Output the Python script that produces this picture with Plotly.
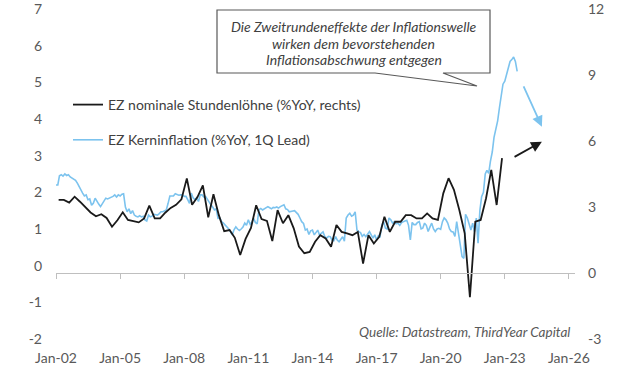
import pandas as pd
import plotly.graph_objects as go

# ---------------- data ----------------
# EZ Kerninflation (%YoY, 1Q Lead) - monthly, left axis
core_2002 = [2.2, 2.2, 2.45, 2.48, 2.44, 2.5, 2.46, 2.48, 2.42, 2.39, 2.37, 2.33]
core_2003 = [2.25, 2.15, 2.05, 1.98, 1.9, 1.93, 1.8, 1.82, 1.65, 1.7, 1.84, 1.75]
core_2004 = [1.68, 1.61, 1.68, 1.75, 1.84, 1.82, 1.84, 1.86, 1.89, 1.93, 1.87, 1.93]
core_2005 = [1.9, 1.95, 1.96, 1.6, 1.47, 1.55, 1.42, 1.5, 1.38, 1.35, 1.33, 1.36]
core_2006 = [1.33, 1.35, 1.25, 1.22, 1.38, 1.33, 1.35, 1.4, 1.4, 1.38, 1.42, 1.47]
core_2007 = [1.47, 1.5, 1.52, 1.7, 1.9, 1.9, 1.9, 1.96, 1.93, 1.92, 1.93, 1.93]
core_2008 = [1.89, 1.89, 1.8, 1.7, 1.98, 1.85, 1.8, 1.85, 1.75, 1.93, 1.93, 1.87]
core_2009 = [1.89, 1.8, 1.75, 1.66, 1.6, 1.52, 1.55, 1.29, 1.3, 1.2, 1.16, 1.11]
core_2010 = [1.06, 1.0, 0.93, 0.84, 0.98, 1.06, 1.0, 0.96, 1.0, 1.05, 1.16, 1.1]
core_2011 = [1.25, 1.13, 1.18, 1.29, 1.18, 1.14, 1.52, 1.56, 1.52, 1.55, 1.57, 1.61]
core_2012 = [1.58, 1.55, 1.59, 1.58, 1.6, 1.57, 1.61, 1.63, 1.66, 1.55, 1.53, 1.47]
core_2013 = [1.47, 1.49, 1.5, 1.45, 1.4, 1.3, 1.2, 1.15, 0.97, 1.0, 0.85, 0.95]
core_2014 = [0.97, 0.84, 0.9, 0.97, 0.84, 0.88, 0.92, 0.79, 0.75, 0.8, 0.79, 0.7]
core_2015 = [0.68, 0.79, 0.7, 0.65, 0.72, 0.79, 0.67, 1.3, 1.38, 1.43, 1.35, 1.38]
core_2016 = [1.47, 0.97, 0.93, 0.9, 0.8, 0.85, 0.79, 0.88, 0.93, 0.84, 0.75, 0.84]
core_2017 = [0.7, 0.82, 0.79, 1.1, 1.2, 1.02, 1.0, 1.3, 1.25, 1.16, 1.2, 1.14]
core_2018 = [1.16, 1.1, 1.17, 1.2, 1.22, 1.24, 1.1, 0.7, 1.18, 1.12, 1.12, 1.18]
core_2019 = [1.2, 1.0, 1.02, 1.16, 1.1, 0.93, 1.05, 1.16, 1.0, 0.93, 1.0, 1.02]
core_2020 = [0.99, 1.2, 1.3, 1.25, 1.16, 1.0, 0.93, 0.92, 0.8, 1.2, 0.88, 0.6]
core_2021 = [0.25, 0.2, 1.4, 1.3, 1.16, 0.97, 1.16, 0.93, 1.3, 0.61, 1.5, 1.88]
core_2022 = [2.0, 2.5, 2.6, 2.52, 2.85, 3.1, 3.5, 3.75, 3.95, 4.3, 4.65, 4.95]
core_2023 = [5.03, 5.2, 5.4, 5.57, 5.62, 5.69, 5.57, 5.3]

# EZ nominale Stundenlöhne (%YoY, rechts) - quarterly, right axis
wages_2002_2006 = [3.32, 3.32, 3.2, 3.47, 3.24, 2.98, 2.75, 2.58, 2.67, 2.5, 2.1, 2.4,
                   2.76, 2.41, 2.36, 2.3, 2.48, 3.06, 2.48, 2.48]
wages_2007_2011 = [2.75, 2.96, 3.1, 3.35, 4.3, 3.1, 3.45, 3.98, 2.53, 3.58, 2.63, 1.9,
                   1.95, 1.6, 0.82, 1.55, 2.05, 3.08, 2.45, 2.37]
wages_2012_2016 = [1.45, 2.86, 2.26, 2.63, 2.03, 1.2, 0.9, 0.96, 1.42, 1.72, 1.57, 1.19,
                   2.18, 1.87, 1.8, 1.72, 1.87, 0.43, 1.72, 1.34]
wages_2017_2022 = [1.64, 2.56, 1.87, 2.33, 2.33, 2.63, 2.63, 2.48, 2.48, 2.71, 2.48, 2.41,
                   3.62, 4.31, 3.78, 2.86, 1.8, -1.1, 2.33, 2.41, 3.4, 4.69, 3.09, 5.22]

left_ticks = [-2, -1, 0, 1, 2, 3, 4, 5, 6, 7]
right_ticks = [-3, 0, 3, 6, 9, 12]

callout_lines = ["Die Zweitrundeneffekte der Inflationswelle",
                 "wirken dem bevorstehenden",
                 "Inflationsabschwung entgegen"]
source_text = "Quelle: Datastream, ThirdYear Capital"

core = (core_2002 + core_2003 + core_2004 + core_2005 + core_2006 + core_2007 + core_2008
        + core_2009 + core_2010 + core_2011 + core_2012 + core_2013 + core_2014 + core_2015
        + core_2016 + core_2017 + core_2018 + core_2019 + core_2020 + core_2021 + core_2022
        + core_2023)
core_dates = pd.date_range("2002-01-01", periods=len(core), freq="MS")

wages = wages_2002_2006 + wages_2007_2011 + wages_2012_2016 + wages_2017_2022
wage_dates = [pd.Timestamp(2002 + i // 4, 2 + 3 * (i % 4), 15) for i in range(len(wages))]

# ---------------- figure ----------------
W, H = 623, 373
PL, PT, PW, PH = 56, 9, 519, 330          # plot area in pixels
ML, MT = PL, PT
MR, MB = W - ML - PW, H - MT - PH


def px(x):
    return (x - PL) / PW


def py(y):
    return 1 - (y - PT) / PH


BLUE = "#7cc3ee"
BLACK = "#1a1a1a"
GREY = "#595959"
FONT = "Lato"

fig = go.Figure()
fig.add_trace(go.Scatter(
    x=wage_dates, y=wages, mode="lines", xaxis="x2", yaxis="y2",
    name="EZ nominale Stundenlöhne (%YoY, rechts)", legendgroup="a",
    line=dict(color=BLACK, width=1.8)))
fig.add_trace(go.Scatter(
    x=core_dates, y=core, mode="lines",
    name="EZ Kerninflation (%YoY, 1Q Lead)", legendgroup="b",
    line=dict(color=BLUE, width=1.6)))

xrange_ = ["2002-01-01", "2026-04-15"]

# callout box with pointer
pts = [(217, 10), (490, 10), (490, 73), (443, 73), (477, 86), (375, 73), (217, 73)]
path = "M " + " L ".join(f"{px(x):.5f},{py(y):.5f}" for x, y in pts) + " Z"

annotations = []
for line_text, yc in zip(callout_lines, [26.7, 43.0, 59.5]):
    annotations.append(dict(
        text=f"<i>{line_text}</i>", xref="paper", yref="paper", x=px(353.5), y=py(yc),
        xanchor="center", yanchor="middle", showarrow=False,
        font=dict(family=FONT, size=14, color="#404040")))
annotations += [
    dict(text=f"<i>{source_text}</i>", xref="paper", yref="paper",
         x=px(572), y=py(332), xanchor="right", yanchor="middle", showarrow=False,
         font=dict(family=FONT, size=13.5, color=GREY)),
    dict(x="2024-09-26", y=3.79, ax="2023-11-07", ay=4.93, xref="x", yref="y",
         axref="x", ayref="y", text="", showarrow=True, arrowhead=2, arrowsize=1.2,
         arrowwidth=1.8, arrowcolor=BLUE),
    dict(x="2024-09-26", y=5.97, ax="2023-05-22", ay=5.24, xref="x", yref="y2",
         axref="x", ayref="y2", text="", showarrow=True, arrowhead=2, arrowsize=1.2,
         arrowwidth=1.8, arrowcolor=BLACK),
]

fig.update_layout(
    width=W, height=H,
    margin=dict(l=ML, r=MR, t=MT, b=MB, pad=0, autoexpand=False),
    paper_bgcolor="white", plot_bgcolor="white",
    font=dict(family=FONT, size=14, color=GREY),
    showlegend=True,
    legend=dict(x=px(68), y=py(89), xanchor="left", yanchor="top",
                bgcolor="rgba(0,0,0,0)", font=dict(size=14, color="#404040"),
                tracegroupgap=14, traceorder="grouped"),
    xaxis=dict(range=xrange_, type="date", tickformat="%b-%y", dtick="M36",
               tick0="2002-01-01", showgrid=False, zeroline=False, showline=False,
               ticks="", ticklabelstandoff=9, automargin=False,
               tickfont=dict(size=14, color=GREY)),
    xaxis2=dict(overlaying="x", matches="x", anchor="free", position=3 / 15,
                type="date", dtick="M36", tick0="2002-01-01", showgrid=False,
                zeroline=False, showline=True, linecolor="#bfbfbf", linewidth=1,
                ticks="outside", ticklen=5, tickcolor="#bfbfbf", showticklabels=False),
    yaxis=dict(range=[-2, 7], tickvals=left_ticks, ticktext=[str(v) for v in left_ticks],
               showgrid=False, zeroline=False, showline=False, ticks="",
               ticklabelstandoff=13, ticklabeloverflow="allow", automargin=False,
               tickfont=dict(size=14, color=GREY)),
    yaxis2=dict(range=[-3, 12], tickvals=right_ticks, ticktext=[str(v) for v in right_ticks],
                overlaying="y", side="right", showgrid=False, zeroline=False,
                showline=False, ticks="", ticklabelstandoff=12, ticklabeloverflow="allow",
                automargin=False, tickfont=dict(size=14, color=GREY)),
    shapes=[dict(type="path", path=path, xref="paper", yref="paper",
                 line=dict(color=GREY, width=1.2), fillcolor="white", layer="below")],
    annotations=annotations,
)

# remove the browser's default 8px body margin so the figure fills the window
fig.write_html("out.html", config={"displayModeBar": False},
               post_script="document.body.style.margin='0px';")
